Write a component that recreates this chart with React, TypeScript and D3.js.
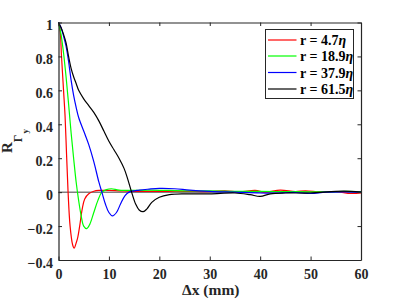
import React, { useEffect, useRef } from "react";
import * as d3 from "d3";

// x positions (mm) and correlation values for each separation r
const redX = [0, 0.3, 0.6, 1, 1.3, 1.6, 1.9, 2.3, 2.8, 3.1, 3.5, 3.8, 4.2, 4.7, 5.2, 6, 7, 8, 10, 12, 15, 20, 25, 30, 33, 36, 39, 41, 44, 47, 49, 52, 55, 58, 60];
const redY = [1, 0.96, 0.8, 0.6, 0.45, 0.22, 0.0, -0.2, -0.31, -0.33, -0.3, -0.27, -0.2, -0.1, -0.04, -0.01, 0.005, 0.01, 0.01, 0.008, 0.005, 0.005, 0.005, 0.003, 0.008, 0.002, 0.01, 0.0, 0.012, 0.003, 0.008, 0.0, 0.003, -0.008, -0.005];

const greenX = [0, 0.5, 1, 1.5, 2, 2.5, 3, 3.5, 4, 4.5, 5, 5.6, 6.2, 7, 7.8, 8.6, 9.5, 10.5, 12, 15, 18, 22, 25, 30, 35, 40, 45, 50, 54, 57, 60];
const greenY = [1, 0.93, 0.82, 0.68, 0.52, 0.35, 0.2, 0.06, -0.05, -0.14, -0.2, -0.215, -0.19, -0.12, -0.05, 0, 0.015, 0.02, 0.012, 0.01, 0.012, 0.01, 0.008, 0.008, 0.005, 0.005, 0.003, 0.002, 0.002, 0.005, 0.003];

const blueX = [0, 0.5, 1, 1.5, 2, 2.5, 3, 3.5, 4, 5, 6, 7, 8, 8.6, 9.3, 10, 10.7, 11.5, 12.3, 13.2, 14, 16, 18, 20, 23, 26, 30, 35, 40, 43, 47, 50, 53, 57, 60];
const blueY = [1, 0.97, 0.92, 0.86, 0.77, 0.66, 0.57, 0.5, 0.44, 0.36, 0.28, 0.18, 0.06, 0, -0.07, -0.12, -0.14, -0.12, -0.07, -0.02, 0, 0.012, 0.018, 0.022, 0.02, 0.012, 0.005, 0, -0.005, -0.005, -0.002, -0.008, 0, 0.002, 0];

const blackX = [0, 0.5, 1, 1.5, 2, 2.5, 3, 3.5, 4, 5, 6, 7, 8, 9, 10, 11, 12, 13, 13.7, 14.5, 15.3, 16, 16.8, 17.5, 18.5, 20, 22, 25, 30, 35, 38, 40, 42, 45, 50, 55, 58, 60];
const blackY = [1, 0.97, 0.93, 0.88, 0.8, 0.73, 0.68, 0.64, 0.6, 0.55, 0.51, 0.47, 0.42, 0.36, 0.3, 0.25, 0.2, 0.14, 0.08, 0, -0.07, -0.105, -0.115, -0.1, -0.06, -0.03, -0.015, -0.01, -0.01, -0.005, -0.015, -0.025, -0.01, -0.005, -0.005, 0.005, 0.005, 0];

const seriesNames = ["4.7", "18.9", "37.9", "61.5"];
const seriesColors = ["#ff0000", "#00ff00", "#0000ff", "#000000"];
const seriesXs = [redX, greenX, blueX, blackX];
const seriesYs = [redY, greenY, blueY, blackY];

const xTicks = [0, 10, 20, 30, 40, 50, 60];
const yTicks = [-0.4, -0.2, 0, 0.2, 0.4, 0.6, 0.8, 1];

const width = 399;
const height = 299;
const margins = { top: 22.5, right: 38, bottom: 39, left: 58.5 };

const App: React.FC = () => {
    const svgRef = useRef<SVGSVGElement | null>(null);

    useEffect(() => {
        if (!svgRef.current) return;
        const svg = d3.select(svgRef.current);
        svg.selectAll("*").remove();

        const font = "'Liberation Serif', 'Times New Roman', serif";
        const axisColor = "#262626";

        const x = d3
            .scaleLinear()
            .domain([0, 60])
            .range([margins.left, width - margins.right]);
        const y = d3
            .scaleLinear()
            .domain([-0.4, 1])
            .range([height - margins.bottom, margins.top]);

        svg.append("rect")
            .attr("width", width)
            .attr("height", height)
            .attr("fill", "white");

        // zero line
        svg.append("line")
            .attr("x1", x(0))
            .attr("x2", x(60))
            .attr("y1", y(0))
            .attr("y2", y(0))
            .attr("stroke", "#808080")
            .attr("stroke-width", 1.5);

        // curves
        const line = d3
            .line<[number, number]>()
            .x((d) => x(d[0]))
            .y((d) => y(d[1]))
            .curve(d3.curveCatmullRom.alpha(0.5));

        seriesXs.forEach((xs, i) => {
            const pts: [number, number][] = xs.map((v, j) => [v, seriesYs[i][j]]);
            svg.append("path")
                .attr("d", line(pts) as string)
                .attr("fill", "none")
                .attr("stroke", seriesColors[i])
                .attr("stroke-width", 1.2);
        });

        // axes box
        const tickLen = 3.5;
        const bottom = svg.append("g").attr("transform", `translate(0,${y(-0.4)})`)
            .call(d3.axisBottom(x).tickValues(xTicks).tickSizeInner(-tickLen).tickSizeOuter(0).tickPadding(9).tickFormat(d3.format("d")));
        const top = svg.append("g").attr("transform", `translate(0,${y(1)})`)
            .call(d3.axisTop(x).tickValues(xTicks).tickSizeInner(-tickLen).tickSizeOuter(0).tickFormat(() => ""));
        const left = svg.append("g").attr("transform", `translate(${x(0)},0)`)
            .call(d3.axisLeft(y).tickValues(yTicks).tickSizeInner(-tickLen).tickSizeOuter(0).tickPadding(5.5).tickFormat((d) => d3.format("")(+(+d).toFixed(1))));
        const right = svg.append("g").attr("transform", `translate(${x(60)},0)`)
            .call(d3.axisRight(y).tickValues(yTicks).tickSizeInner(-tickLen).tickSizeOuter(0).tickFormat(() => ""));

        [bottom, top, left, right].forEach((g) => {
            g.select(".domain").attr("stroke", axisColor).attr("stroke-width", 1.2);
            g.selectAll(".tick line").attr("stroke", axisColor);
            g.selectAll("text")
                .attr("font-family", font)
                .attr("font-weight", "bold")
                .attr("font-size", 14)
                .attr("fill", axisColor);
        });
        left.selectAll(".tick text").attr("dy", "0.5em");

        // x label
        const xl = svg.append("text")
            .attr("x", (x(0) + x(60)) / 2 + 1)
            .attr("y", 295)
            .attr("text-anchor", "middle")
            .attr("font-family", font)
            .attr("font-weight", "bold")
            .attr("font-size", 15.5)
            .attr("fill", axisColor);
        xl.text("Δx (mm)");

        // y label
        const yl = svg.append("text")
            .attr("transform", "translate(12,153) rotate(-90)")
            .attr("font-family", font)
            .attr("font-weight", "bold")
            .attr("font-size", 15)
            .attr("fill", axisColor);
        yl.append("tspan").text("R");
        yl.append("tspan").attr("font-size", 12).attr("dy", 9.5).text("Γ");
        yl.append("tspan").attr("font-size", 9).attr("dy", 6).attr("dx", 1).text("y");

        // legend
        const lg = svg.append("g");
        lg.append("rect")
            .attr("x", 265.5)
            .attr("y", 29.5)
            .attr("width", 88)
            .attr("height", 69)
            .attr("fill", "white")
            .attr("stroke", axisColor)
            .attr("stroke-width", 1);
        const rowY = [40, 56, 72.5, 89];
        seriesNames.forEach((name, i) => {
            lg.append("line")
                .attr("x1", 268)
                .attr("x2", 296.5)
                .attr("y1", rowY[i])
                .attr("y2", rowY[i])
                .attr("stroke", seriesColors[i])
                .attr("stroke-width", 1.2);
            const t = lg.append("text")
                .attr("x", 300)
                .attr("y", rowY[i] + 5)
                .attr("font-family", font)
                .attr("font-weight", "bold")
                .attr("font-size", 14)
                .attr("fill", "#000");
            t.append("tspan").text(`r = ${name}`);
            t.append("tspan").attr("font-style", "italic").text("η");
        });
    }, []);

    return (
        <svg
            ref={svgRef}
            width={width}
            height={height}
            style={{ position: "absolute", left: 0, top: 0 }}
        ></svg>
    );
};

export default App;
